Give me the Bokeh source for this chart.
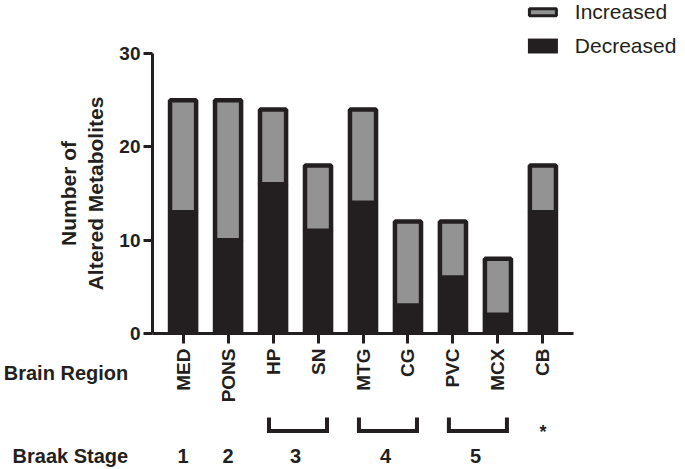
from math import pi
from bokeh.plotting import figure
from bokeh.models import FactorRange, Range1d, FixedTicker, ColumnDataSource
from bokeh.core.properties import value
from bokeh.embed import file_html
from bokeh.resources import INLINE

# ---- data ----
regions = ["MED", "PONS", "HP", "SN", "MTG", "CG", "PVC", "MCX", "CB"]
decreased = [13, 10, 16, 11, 14, 3, 6, 2, 13]
increased = [12, 15, 8, 7, 10, 9, 6, 6, 5]
series_names = ["Increased", "Decreased"]
braak_labels = ["1", "2", "3", "4", "5", "*"]
braak_groups = [["MED"], ["PONS"], ["HP", "SN"], ["MTG", "CG"], ["PVC", "MCX"], ["CB"]]
y_ticks = [0, 10, 20, 30]

DARK = "#231f20"
GRAY = "#939393"
FONT = "Liberation Sans"

src = ColumnDataSource(dict(region=regions, decreased=decreased, increased=increased))

p = figure(
    width=685, height=469,
    x_range=FactorRange(factors=regions, range_padding=0.18, range_padding_units="absolute"),
    y_range=Range1d(0, 30),
    output_backend="svg", toolbar_location=None,
    min_border_left=152, min_border_right=112, min_border_top=53, min_border_bottom=136,
)
p.outline_line_color = None
p.xgrid.visible = False
p.ygrid.visible = False

p.vbar_stack(["decreased", "increased"], x="region", width=0.58, source=src,
             fill_color=[DARK, GRAY], line_color=DARK, line_width=4.5)

# axes
for ax in (p.xaxis[0], p.yaxis[0]):
    ax.axis_line_width = 3
    ax.axis_line_color = DARK
    ax.major_tick_line_width = 3
    ax.major_tick_line_color = DARK
    ax.major_tick_in = 0
    ax.minor_tick_line_color = None
    ax.major_label_text_font = FONT
    ax.major_label_text_font_style = "bold"
    ax.major_label_text_color = DARK

p.yaxis.ticker = FixedTicker(ticks=y_ticks)
p.yaxis.major_tick_out = 9
p.yaxis.major_label_text_font_size = "19px"
p.yaxis.major_label_standoff = 3
p.yaxis.axis_label = "Number of\nAltered Metabolites"
p.yaxis.axis_label_text_font = FONT
p.yaxis.axis_label_text_font_style = "bold"
p.yaxis.axis_label_text_font_size = "21px"
p.yaxis.axis_label_text_color = DARK
p.yaxis.axis_label_standoff = 9

p.xaxis.major_tick_out = 10
p.xaxis.major_label_orientation = pi / 2
p.xaxis.major_label_text_font_size = "19px"
p.xaxis.major_label_standoff = 5


def pos(name):
    return regions.index(name) + 0.5


def txt(xs, ys, texts, size, bold=True, align="center", baseline="middle"):
    p.text(x=xs, y=ys, text=texts, text_font=value(FONT), text_font_size=value(size),
           text_font_style="bold" if bold else "normal", text_color=DARK,
           text_align=align, text_baseline=baseline, level="overlay")


# row labels
txt([-0.72, -0.72], [-4.2, -13.1], ["Brain Region", "Braak Stage"], "20px", align="right")

# braak numbers and brackets
bx, by, nx, ny, nt = [], [], [], [], []
for lab, grp in zip(braak_labels, braak_groups):
    c = sum(pos(g) for g in grp) / len(grp)
    if lab == "*":
        txt([c], [-10.6], [lab], "18px", baseline="alphabetic")
    else:
        nx.append(c); ny.append(-13.1); nt.append(lab)
    if len(grp) > 1:
        a, b = pos(grp[0]) - 0.09, pos(grp[-1]) + 0.2
        bx.append([a, a, b, b])
        by.append([-9.0, -10.45, -10.45, -9.0])
txt(nx, ny, nt, "20px")
p.multi_line(bx, by, line_color=DARK, line_width=4, line_join="miter", level="overlay")

# legend (manual, above the frame)
lx = pos("CB")
p.rect(x=[lx], y=[34.43], width=0.6, height=0.75, fill_color=GRAY, line_color=DARK,
       line_width=3, level="overlay")
p.rect(x=[lx], y=[30.8], width=0.667, height=1.6, fill_color=DARK, line_color=DARK,
       line_width=0, level="overlay")
txt([9.21, 9.21], [34.5, 30.85], series_names, "21px", bold=False, align="left",
    baseline="alphabetic")

open("out.html", "w").write(file_html(p, INLINE))
